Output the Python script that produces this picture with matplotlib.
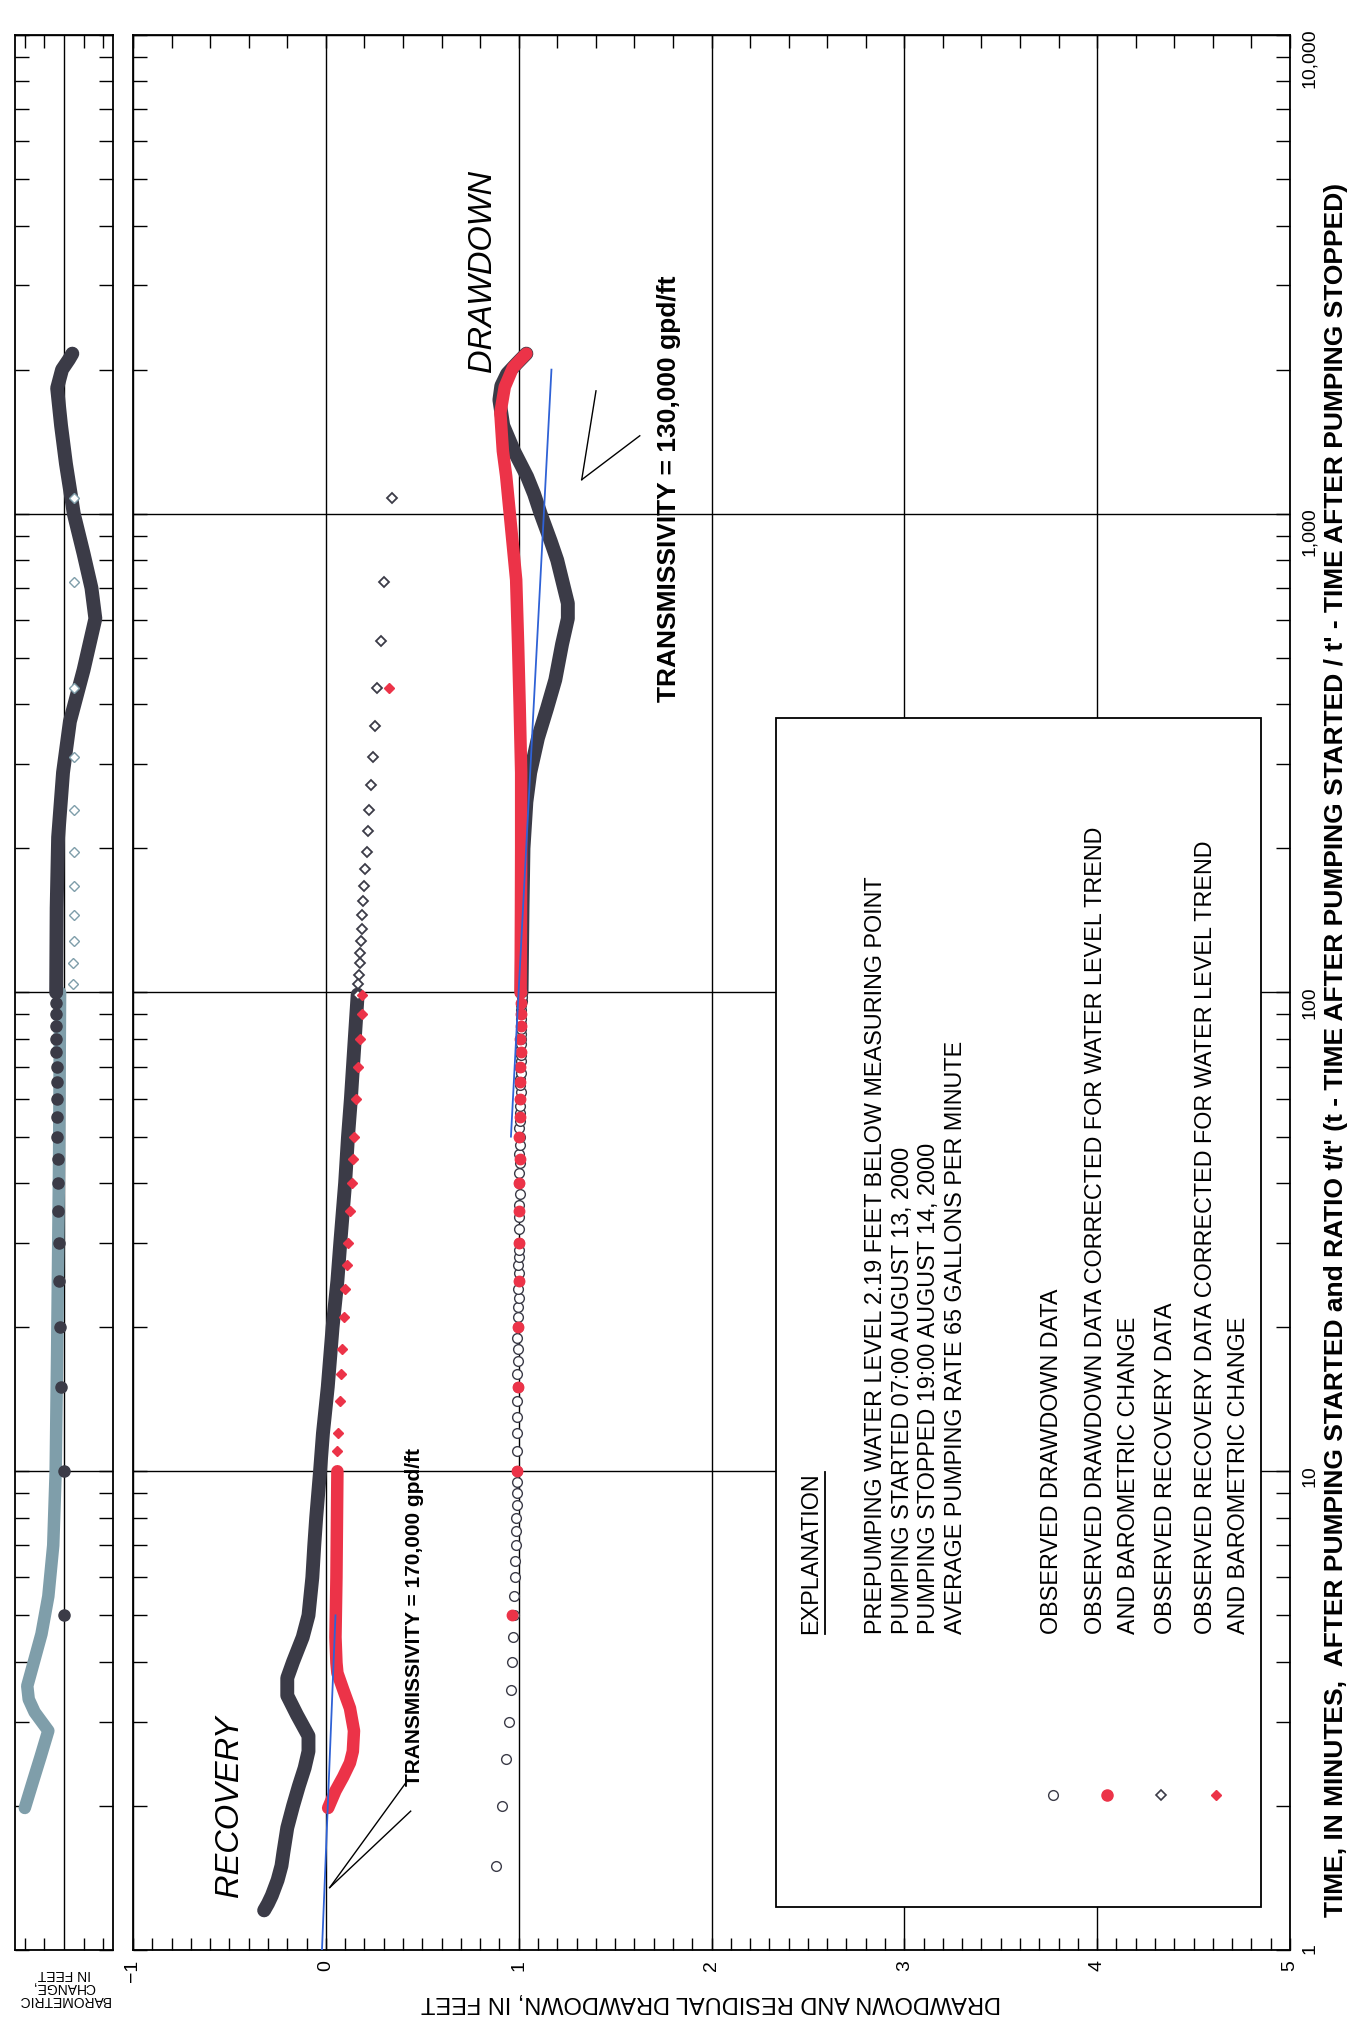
import matplotlib
matplotlib.use("Agg")
import matplotlib.pyplot as plt
from matplotlib.patches import Rectangle
from matplotlib.lines import Line2D
from matplotlib.ticker import MultipleLocator, LogLocator, FixedLocator, FixedFormatter, NullFormatter

# ---------------------------------------------------------------- data ---
# Pumping period: time since pumping started (min) and drawdown (ft)
dd_obs_t = [1.5, 2, 2.5, 3, 3.5, 4, 4.5, 5, 5.5, 6, 6.5, 7, 7.5, 8, 8.5, 9, 9.5,
            10, 11, 12, 13, 14, 15, 16, 17, 18, 19, 20, 21, 22, 23, 24, 25, 26,
            27, 28, 29, 30, 32, 34, 36, 38, 40, 42, 44, 46, 48, 50, 52, 54, 56,
            58, 60, 62, 64, 66, 68, 70, 72, 74, 76, 78, 80, 82, 84, 86, 88, 90,
            92, 94, 96, 98, 100]
dd_obs_s = [0.88, 0.915, 0.935, 0.95, 0.96, 0.965, 0.97, 0.975, 0.975, 0.98, 0.98,
            0.985, 0.985, 0.985, 0.99, 0.99, 0.99, 0.99, 0.99, 0.99, 0.99, 0.99,
            0.995, 0.99, 0.995, 0.995, 0.99, 0.995, 0.995, 0.995, 1.0, 0.995, 1.0,
            1.0, 0.995, 1.0, 1.0, 1.0, 1.0, 1.0, 1.0, 1.005, 1.0, 1.0, 1.005, 1.0,
            1.005, 1.005, 1.0, 1.005, 1.005, 1.005, 1.005, 1.01, 1.005, 1.005,
            1.01, 1.005, 1.01, 1.01, 1.005, 1.01, 1.01, 1.01, 1.01, 1.01, 1.01,
            1.01, 1.01, 1.01, 1.015, 1.015, 1.015]
# continuous record after 100 minutes (observed drawdown)
dd_obs_line_t = [100, 150, 200, 250, 288, 340, 392, 450, 534, 604, 650, 728, 800,
                 877, 1000, 1100, 1195, 1352, 1528, 1729, 1850, 1960, 2060, 2160]
dd_obs_line_s = [1.015, 1.02, 1.025, 1.04, 1.06, 1.1, 1.147, 1.19, 1.225, 1.255,
                 1.255, 1.225, 1.2, 1.166, 1.114, 1.08, 1.044, 0.976, 0.92, 0.9,
                 0.91, 0.94, 0.99, 1.04]

# drawdown corrected for water-level trend and barometric change
dd_cor_t = [5, 10, 15, 20, 25, 30, 35, 40, 45, 50, 55, 60, 65, 70, 75, 80, 85, 90,
            95, 100]
dd_cor_s = [0.965, 0.99, 0.995, 0.995, 1.0, 1.0, 1.0, 1.0, 1.005, 1.0, 1.005, 1.005,
            1.005, 1.005, 1.01, 1.005, 1.01, 1.01, 1.01, 1.01]
dd_cor_line_t = [100, 150, 200, 288, 400, 534, 728, 990, 1200, 1352, 1625, 1841,
                 2018, 2100, 2160]
dd_cor_line_s = [1.01, 1.012, 1.013, 1.013, 1.005, 0.997, 0.987, 0.955, 0.935, 0.918,
                 0.905, 0.928, 0.97, 1.01, 1.04]

# straight-line fit, pumping period (T = 130,000 gpd/ft)
dd_fit_t = [50, 2000]
dd_fit_s = [0.96, 1.17]

# Recovery period: ratio t/t' and residual drawdown (ft)
rec_obs_r = [1081, 721, 541, 433, 361, 310, 271, 241, 217, 197, 181, 167, 155, 145,
             136, 128, 121, 115, 109, 104, 99]
rec_obs_s = [0.345, 0.3, 0.285, 0.265, 0.253, 0.245, 0.232, 0.226, 0.22, 0.212, 0.205,
             0.2, 0.195, 0.19, 0.185, 0.18, 0.178, 0.175, 0.172, 0.168, 0.165]
rec_obs_line_r = [99, 80, 60, 50, 40, 30, 25, 20, 15, 12, 10, 8, 7, 6, 5, 4.5, 4, 3.7,
                  3.4, 3.1, 2.8, 2.6, 2.4, 2.2, 2.0, 1.8, 1.6, 1.5, 1.4, 1.3, 1.25,
                  1.21]
rec_obs_line_s = [0.165, 0.15, 0.13, 0.115, 0.1, 0.075, 0.06, 0.035, 0.01, -0.015,
                  -0.03, -0.05, -0.06, -0.07, -0.09, -0.12, -0.17, -0.2, -0.2, -0.15,
                  -0.09, -0.09, -0.11, -0.14, -0.17, -0.2, -0.22, -0.23, -0.25, -0.28,
                  -0.3, -0.32]

rec_cor_r = [433, 99, 90, 80, 70, 60, 50, 45, 40, 35, 30, 27, 24, 21, 18, 16, 14, 12,
             11]
rec_cor_s = [0.33, 0.19, 0.185, 0.175, 0.165, 0.155, 0.145, 0.14, 0.135, 0.125, 0.115,
             0.11, 0.1, 0.095, 0.085, 0.08, 0.075, 0.065, 0.06]
rec_cor_line_r = [10, 6, 4.5, 3.98, 3.79, 3.5, 3.2, 2.87, 2.6, 2.46, 2.3, 2.15, 1.98]
rec_cor_line_s = [0.06, 0.055, 0.05, 0.055, 0.06, 0.09, 0.125, 0.146, 0.14, 0.125,
                  0.09, 0.05, 0.012]

# straight-line fit, recovery period (T = 170,000 gpd/ft)
rec_fit_r = [1, 5]
rec_fit_s = [-0.02, 0.05]

# Barometric change (ft), pumping period against t, recovery against t/t'
baro_pump_t = [5, 10, 15, 20, 25, 30, 35, 40, 45, 50, 55, 60, 65, 70, 75, 80, 85, 90,
               95, 100]
baro_pump_v = [0.0, 0.0, -0.03, -0.04, -0.05, -0.05, -0.06, -0.06, -0.06, -0.07, -0.07,
               -0.07, -0.07, -0.07, -0.08, -0.08, -0.08, -0.08, -0.08, -0.08]
baro_pump_line_t = [100, 150, 211, 288, 368, 472, 604, 700, 825, 1000, 1271, 1528,
                    1830, 2000, 2100, 2160]
baro_pump_line_v = [-0.08, -0.075, -0.06, -0.01, 0.06, 0.2, 0.32, 0.28, 0.2, 0.1,
                    0.02, -0.03, -0.07, -0.02, 0.05, 0.085]
baro_rec_r = [1081, 721, 433, 310, 241, 197, 167, 145, 128, 115, 104]
baro_rec_v = [0.1, 0.1, 0.1, 0.1, 0.1, 0.1, 0.1, 0.1, 0.1, 0.09, 0.09]
baro_rec_line_r = [100, 45, 17.8, 10, 7.0, 5.48, 4.57, 3.98, 3.56, 3.34, 3.14, 2.87,
                   2.53, 2.24, 1.98]
baro_rec_line_v = [-0.04, -0.05, -0.07, -0.085, -0.11, -0.16, -0.23, -0.31, -0.375,
                   -0.36, -0.3, -0.16, -0.24, -0.32, -0.40]

drawdown_ticks = [-1, 0, 1, 2, 3, 4, 5]
time_ticks = [1, 10, 100, 1000, 10000]
time_labels = ["1", "10", "100", "1,000", "10,000"]

legend_lines = ["PREPUMPING WATER LEVEL 2.19 FEET BELOW MEASURING POINT",
                "PUMPING STARTED 07:00 AUGUST 13, 2000",
                "PUMPING STOPPED 19:00 AUGUST 14, 2000",
                "AVERAGE PUMPING RATE 65 GALLONS PER MINUTE"]
legend_items = ["OBSERVED DRAWDOWN DATA",
                "OBSERVED DRAWDOWN DATA CORRECTED FOR WATER LEVEL TREND\nAND BAROMETRIC CHANGE",
                "OBSERVED RECOVERY DATA",
                "OBSERVED RECOVERY DATA CORRECTED FOR WATER LEVEL TREND\nAND BAROMETRIC CHANGE"]

# -------------------------------------------------------------- styling ---
plt.rcParams["font.family"] = ["Liberation Sans", "DejaVu Sans"]
DARK = "#3b3b47"
RED = "#ec3348"
BLUE = "#2f62d6"
SLATE = "#7f9eaa"

W, H = 1355, 2017
fig = plt.figure(figsize=(W / 100, H / 100), dpi=100)


def fx(px):
    return px / W


def fy(py):
    return 1 - py / H


ax_bottom, ax_top = fy(1950), fy(35)
ax = fig.add_axes([fx(133), ax_bottom, fx(1290) - fx(133), ax_top - ax_bottom])
axb = fig.add_axes([fx(15), ax_bottom, fx(113) - fx(15), ax_top - ax_bottom])

for a in (ax, axb):
    a.set_yscale("log")
    a.set_ylim(1, 10000)
    a.yaxis.set_major_locator(FixedLocator(time_ticks))
    a.yaxis.set_minor_locator(LogLocator(base=10, subs=range(2, 10)))
    a.yaxis.set_minor_formatter(NullFormatter())
    a.tick_params(axis="y", which="both", direction="in", left=True, right=True,
                  length=10, width=1.0, labelleft=False)
    for sp in a.spines.values():
        sp.set_linewidth(1.3)
    a.grid(True, axis="y", which="major", color="black", lw=1.0)
    a.set_axisbelow(True)

# main axes: drawdown horizontally, time vertically
ax.set_xlim(-1, 5)
ax.xaxis.set_major_locator(FixedLocator(drawdown_ticks))
ax.xaxis.set_minor_locator(MultipleLocator(0.1))
ax.tick_params(axis="x", which="both", direction="in", bottom=True, top=False,
               length=9, width=1.0, pad=7, labelsize=14, labelrotation=90)
ax.grid(True, axis="x", which="major", color="black", lw=1.0)
ax.yaxis.set_major_formatter(FixedFormatter(time_labels))
ax.tick_params(axis="y", which="major", labelright=True, labelrotation=90,
               labelsize=14, pad=8)

top = ax.secondary_xaxis("top")
top.xaxis.set_major_locator(FixedLocator(drawdown_ticks))
top.xaxis.set_minor_locator(MultipleLocator(0.2))
top.tick_params(which="both", direction="in", length=9, width=1.0, labeltop=False)

# barometric panel
axb.set_xlim(-0.5, 0.5)
axb.xaxis.set_major_locator(FixedLocator([-0.4, -0.2, 0.2, 0.4]))
axb.tick_params(axis="x", which="both", direction="in", bottom=True, top=True,
                length=9, width=1.0, labelbottom=False)
axb.axvline(0, color="black", lw=1.0, zorder=1)

# ---------------------------------------------------------------- marks ---
ax.plot(dd_obs_line_s, dd_obs_line_t, color=DARK, lw=10, solid_capstyle="round",
        solid_joinstyle="round", zorder=3)
ax.plot(dd_obs_s, dd_obs_t, ls="none", marker="o", ms=7, mfc="white", mec=DARK,
        mew=1.0, zorder=3)
ax.plot(dd_cor_line_s, dd_cor_line_t, color=RED, lw=9, solid_capstyle="round",
        solid_joinstyle="round", zorder=4)
ax.plot(dd_cor_s, dd_cor_t, ls="none", marker="o", ms=7.5, color=RED, zorder=4)
ax.plot(dd_fit_s, dd_fit_t, color=BLUE, lw=1.3, zorder=5)

ax.plot(rec_obs_line_s, rec_obs_line_r, color=DARK, lw=10, solid_capstyle="round",
        solid_joinstyle="round", zorder=3)
ax.plot(rec_obs_s, rec_obs_r, ls="none", marker="D", ms=5, mfc="white", mec=DARK,
        mew=1.3, zorder=3)
ax.plot(rec_cor_line_s, rec_cor_line_r, color=RED, lw=9, solid_capstyle="round",
        solid_joinstyle="round", zorder=4)
ax.plot(rec_cor_s, rec_cor_r, ls="none", marker="D", ms=5, color=RED, zorder=4)
ax.plot(rec_fit_s, rec_fit_r, color=BLUE, lw=1.3, zorder=5)

axb.plot(baro_pump_line_v, baro_pump_line_t, color=DARK, lw=10, solid_capstyle="round",
         solid_joinstyle="round", zorder=3)
axb.plot(baro_pump_v, baro_pump_t, ls="none", marker="o", ms=8, color=DARK, zorder=3)
axb.plot(baro_rec_line_v, baro_rec_line_r, color=SLATE, lw=9, solid_capstyle="round",
         solid_joinstyle="round", zorder=2.5)
axb.plot(baro_rec_v, baro_rec_r, ls="none", marker="D", ms=5, mfc="white", mec=SLATE,
         mew=1.0, zorder=3)

# ----------------------------------------------------------- annotations ---
ax.text(-0.5, 2.0, "RECOVERY", rotation=90, style="italic", fontsize=23.5,
        ha="center", va="center")
ax.text(0.813, 3215, "DRAWDOWN", rotation=90, style="italic", fontsize=23.5,
        ha="center", va="center")
ax.text(0.46, 2.2, "TRANSMISSIVITY = 170,000 gpd/ft", rotation=90, fontsize=15,
        fontweight="bold", ha="center", va="bottom")
ax.text(1.78, 405, "TRANSMISSIVITY = 130,000 gpd/ft", rotation=90, fontsize=19,
        fontweight="bold", ha="center", va="bottom")
ax.plot([0.02, 0.42], [1.35, 2.25], color="black", lw=1.0, zorder=6)
ax.plot([0.02, 0.44], [1.35, 1.95], color="black", lw=1.0, zorder=6)
ax.plot([1.327, 1.401], [1178, 1806], color="black", lw=1.0, zorder=6)
ax.plot([1.327, 1.628], [1178, 1455], color="black", lw=1.0, zorder=6)

# axis titles
fig.text(fx(711), fy(2002), "DRAWDOWN AND RESIDUAL DRAWDOWN, IN FEET", rotation=180,
         fontsize=17, ha="center", va="center")
fig.text(fx(64), fy(1987), "BAROMETRIC\nCHANGE,\nIN FEET", rotation=180, fontsize=10,
         ha="center", va="center", multialignment="center", linespacing=0.95)
fig.text(fx(1336), 1 - 1050 / H,
         "TIME, IN MINUTES,  AFTER PUMPING STARTED and RATIO t/t' (t - TIME AFTER "
         "PUMPING STARTED / t' - TIME AFTER PUMPING STOPPED)",
         rotation=90, fontsize=19, fontweight="bold", ha="center", va="center")

# explanation box
fig.add_artist(Rectangle((fx(776), fy(1907)), fx(1261) - fx(776), fy(718) - fy(1907),
                         transform=fig.transFigure, facecolor="white",
                         edgecolor="black", lw=1.3, zorder=1))
start_y = fy(1634)
expl = fig.text(fx(811), start_y, "EXPLANATION", rotation=90, fontsize=16.8,
                ha="center", va="bottom", zorder=5)
for i, line in enumerate(legend_lines):
    fig.text(fx(875 + 27 * i), start_y, line, rotation=90, fontsize=16.8,
             ha="center", va="bottom", zorder=5)
item_x = [1040, 1084, 1154, 1194]
for xpx, item in zip(item_x, legend_items):
    fig.text(fx(xpx), start_y, item, rotation=90, fontsize=16.8, ha="left",
             va="bottom", zorder=5, linespacing=1.55)
sym_y = fy(1795)
fig.add_artist(Line2D([fx(1053)], [sym_y], transform=fig.transFigure, marker="o",
                      ms=7, mfc="white", mec=DARK, mew=1.0, ls="none", zorder=5))
fig.add_artist(Line2D([fx(1107)], [sym_y], transform=fig.transFigure, marker="o",
                      ms=8, color=RED, ls="none", zorder=5))
fig.add_artist(Line2D([fx(1161)], [sym_y], transform=fig.transFigure, marker="D",
                      ms=5, mfc="white", mec=DARK, mew=1.2, ls="none", zorder=5))
fig.add_artist(Line2D([fx(1216)], [sym_y], transform=fig.transFigure, marker="D",
                      ms=5, color=RED, ls="none", zorder=5))

# underline the heading
fig.canvas.draw()
bb = expl.get_window_extent().transformed(fig.transFigure.inverted())
fig.add_artist(Line2D([bb.x1 + 0.002, bb.x1 + 0.002], [bb.y0, bb.y1],
                      transform=fig.transFigure, color="black", lw=1.3, zorder=5))

fig.savefig("out.png", dpi=100)
